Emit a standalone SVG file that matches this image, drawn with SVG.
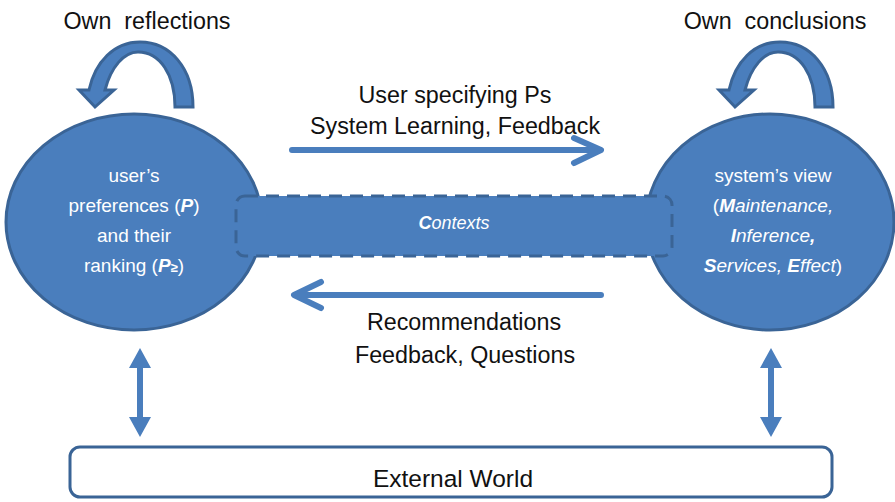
<svg xmlns="http://www.w3.org/2000/svg" width="895" height="502" viewBox="0 0 895 502">
<style>
text{font-family:"Liberation Sans",Arial,sans-serif;}
.lbl{font-size:23.3px;fill:#111;text-anchor:middle;white-space:pre;}
.in{font-size:19px;fill:#fff;text-anchor:middle;}
.bi{font-weight:bold;font-style:italic;}
.it{font-style:italic;}
.shape{fill:#4A7EBD;stroke:#3A6496;stroke-width:3;}
.fill{fill:#4A7EBD;}
.line{stroke:#4A7EBD;stroke-width:6;fill:none;stroke-linecap:round;stroke-linejoin:round;}
</style>
<rect width="895" height="502" fill="#fff"/>
<g id="node-user">
<ellipse class="shape" cx="134" cy="222" rx="128" ry="108"/>
</g>
<g id="node-system">
<ellipse class="shape" cx="770" cy="222" rx="124" ry="108"/>
</g>
<g id="node-contexts">
<rect class="fill" x="236" y="196" width="436" height="60"/>
<rect x="236" y="196" width="436" height="60" rx="9" fill="none" stroke="#3A6496" stroke-width="3" stroke-dasharray="13,8"/>
<text class="in" x="454" y="229" style="font-size:18px"><tspan class="bi">C</tspan><tspan class="it">ontexts</tspan></text>
</g>
<g id="node-user-text">
<text class="in" x="134" y="182">user’s</text>
<text class="in" x="134" y="212">preferences (<tspan class="bi">P</tspan>)</text>
<text class="in" x="134" y="242">and their</text>
<text class="in" x="134" y="272">ranking (<tspan class="bi">P</tspan><tspan class="bi" font-size="13">≥</tspan>)</text>
</g>
<g id="node-system-text">
<text class="in" x="773" y="182">system’s view</text>
<text class="in" x="773" y="212">(<tspan class="bi">M</tspan><tspan class="it">aintenance,</tspan></text>
<text class="in" x="773" y="242"><tspan class="bi">I</tspan><tspan class="it">nference</tspan><tspan class="bi">,</tspan></text>
<text class="in" x="773" y="272"><tspan class="bi">S</tspan><tspan class="it">ervices, </tspan><tspan class="bi">E</tspan><tspan class="it">ffect</tspan>)</text>
</g>
<g id="node-external">
<rect x="70" y="447" width="762" height="50" rx="10" fill="#fff" stroke="#3A6496" stroke-width="3"/>
<text class="lbl" x="453" y="487" style="font-size:24.5px">External World</text>
</g>
<g id="connectors">
<path class="line" d="M292 150 H600 M574 138 L601 150 L574 163"/>
<path class="line" d="M601 295 H295 M321 282 L294 295 L321 308"/>
<path class="fill" d="M140 348 L151 368 L143 368 L143 417 L151 417 L140 437 L129 417 L137 417 L137 368 L129 368 Z"/>
<path class="fill" d="M771 348 L782 368 L774 368 L774 417 L782 417 L771 437 L760 417 L768 417 L768 368 L760 368 Z"/>
<path id="loop-left" class="shape" stroke-width="2" d="M193 107 C193 68 170 42 140 42 C114 42 95 62 89 90 L79 90 L95 107 L114 90 L105 90 C111 67 124 52 138 52 C160 52 175 75 175 107 Z"/>
<path id="loop-right" class="shape" stroke-width="2" transform="translate(640,0)" d="M193 107 C193 68 170 42 140 42 C114 42 95 62 89 90 L79 90 L95 107 L114 90 L105 90 C111 67 124 52 138 52 C160 52 175 75 175 107 Z"/>
<text class="lbl" x="147" y="29">Own  reflections</text>
<text class="lbl" x="775" y="29">Own  conclusions</text>
<text class="lbl" x="455" y="103">User specifying Ps</text>
<text class="lbl" x="455" y="134">System Learning, Feedback</text>
<text class="lbl" x="464" y="330">Recommendations</text>
<text class="lbl" x="465" y="363">Feedback, Questions</text>
</g>
</svg>
